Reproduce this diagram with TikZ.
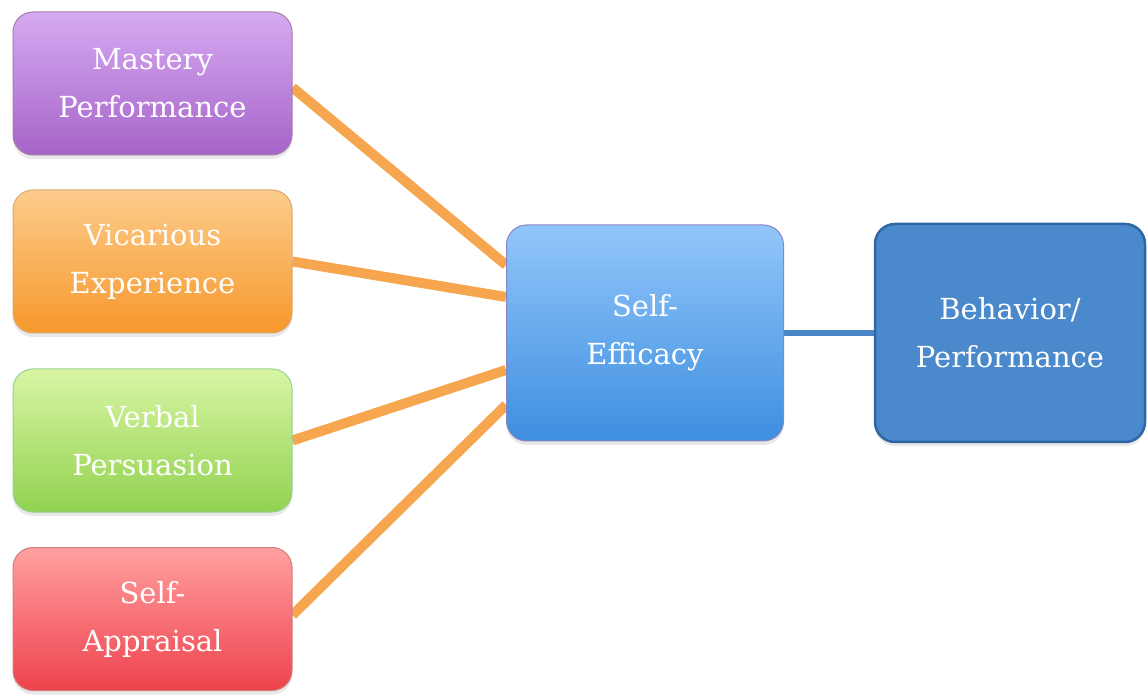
\documentclass[tikz,border=0pt]{standalone}
\usepackage{fontspec}
\setmainfont{DejaVu Serif}
\usepackage{xcolor}
\usepackage{tikz}
\usetikzlibrary{shadows,backgrounds}

\definecolor{linkorange}{HTML}{F6A64E}
\definecolor{linkblue}{HTML}{4A86C6}

\tikzset{
  source/.style={rounded corners=20pt, minimum width=279pt, minimum height=143pt,
    align=center, text=white, line width=1pt,
    font=\fontsize{29}{48}\selectfont,
    drop shadow={opacity=0.18, shadow xshift=0pt, shadow yshift=-4pt}},
  target/.style={source, minimum height=216pt},
  link/.style={linkorange, line width=10pt},
}

\begin{document}
\begin{tikzpicture}[x=1pt,y=1pt]
  % ------- canvas -------
  \useasboundingbox (0,0) rectangle (1147,696);

  % ------- four sources -------
  \node[source, draw=violet!45!gray!70, top color={rgb,255:red,214;green,170;blue,242},
        bottom color={rgb,255:red,166;green,100;blue,200}]
        (mastery) at (152.5,612.5) {Mastery\\Performance};
  \node[source, draw=orange!60!gray!70, top color={rgb,255:red,252;green,204;blue,140},
        bottom color={rgb,255:red,247;green,152;blue,44}]
        (vicarious) at (152.5,434.5) {Vicarious\\Experience};
  \node[source, draw=green!40!gray!60, top color={rgb,255:red,216;green,245;blue,164},
        bottom color={rgb,255:red,146;green,210;blue,80}]
        (verbal) at (152.5,255.5) {Verbal\\Persuasion};
  \node[source, draw=red!45!gray!70, top color={rgb,255:red,255;green,160;blue,160},
        bottom color={rgb,255:red,238;green,66;blue,76}]
        (appraisal) at (152.5,77) {Self-\\Appraisal};

  % ------- self-efficacy and outcome -------
  \node[target, minimum width=277pt, draw=blue!35!gray!70,
        top color={rgb,255:red,146;green,198;blue,250},
        bottom color={rgb,255:red,62;green,142;blue,224}]
        (efficacy) at (645,363) {Self-\\Efficacy};
  \node[target, minimum width=270pt, minimum height=218pt, line width=2.5pt,
        draw={rgb,255:red,46;green,102;blue,166},
        fill={rgb,255:red,74;green,138;blue,204}]
        (behavior) at (1010,363) {Behavior/\\Performance};

  % ------- links (behind the boxes) -------
  \begin{scope}[on background layer]
    \draw[link] ([yshift=-4pt]mastery.east) -- ([yshift=68pt]efficacy.west);
    \draw[link] (vicarious.east) -- ([yshift=36pt]efficacy.west);
    \draw[link] (verbal.east) -- ([yshift=-37pt]efficacy.west);
    \draw[link] ([yshift=4pt]appraisal.east) -- ([yshift=-72pt]efficacy.west);
    \draw[linkblue, line width=6pt] (efficacy.east) -- (behavior.west);
  \end{scope}
\end{tikzpicture}
\end{document}
